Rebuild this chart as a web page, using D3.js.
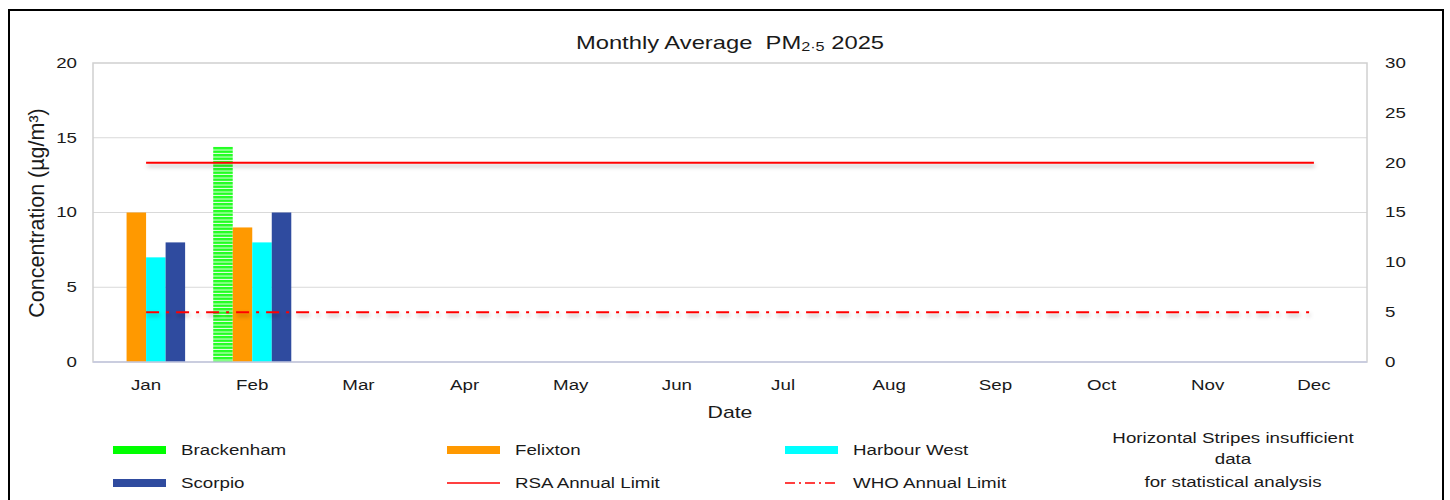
<!DOCTYPE html>
<html><head><meta charset="utf-8">
<script src="https://cdn.jsdelivr.net/npm/d3@7"></script>
<style>
html,body{margin:0;padding:0;background:#fff;}
text{font-family:Arial,"Liberation Sans",sans-serif;fill:#1a1a1a;}
</style></head>
<body><div id="chart"></div>
<script>
// ---- data ----
const months = ["Jan","Feb","Mar","Apr","May","Jun","Jul","Aug","Sep","Oct","Nov","Dec"];
const seriesNames = ["Brackenham","Felixton","Harbour West","Scorpio"];
const brackenham  = [null, 14.4, null, null, null, null, null, null, null, null, null, null];
const felixton    = [10, 9, null, null, null, null, null, null, null, null, null, null];
const harbourWest = [7, 8, null, null, null, null, null, null, null, null, null, null];
const scorpio     = [8, 10, null, null, null, null, null, null, null, null, null, null];
const brackenhamInsufficient = [false, true, false, false, false, false, false, false, false, false, false, false];
const leftTicks  = [0, 5, 10, 15, 20];
const rightTicks = [0, 5, 10, 15, 20, 25, 30];
const rsaLimit = 20;   // right axis
const whoLimit = 5;    // right axis

// ---- layout ----
const W = 1450, H = 500, SX = 1.25;
const plot = {l: 93, r: 1367, t: 63, b: 362};
const colors = {"Brackenham":"#00ff00","Felixton":"#ff9900","Harbour West":"#00ffff","Scorpio":"#2f4b9f"};
const seriesData = {"Brackenham":brackenham,"Felixton":felixton,"Harbour West":harbourWest,"Scorpio":scorpio};

const svg = d3.select("#chart").append("svg").attr("width", W).attr("height", H);
svg.append("rect").attr("width", W).attr("height", H).attr("fill", "#fff");

const defs = svg.append("defs");
const pat = defs.append("pattern").attr("id","stripes").attr("patternUnits","userSpaceOnUse")
  .attr("width", 8).attr("height", 3.5);
pat.append("rect").attr("width", 8).attr("height", 3.5).attr("fill", "#22ff22");
pat.append("rect").attr("y", 2.5).attr("width", 8).attr("height", 1).attr("fill", "#e6ffe6");
const sh = defs.append("filter").attr("id","shadow").attr("filterUnits","userSpaceOnUse")
  .attr("x", 0).attr("y", 0).attr("width", W).attr("height", H);
sh.append("feDropShadow").attr("dx", 1).attr("dy", 3).attr("stdDeviation", 2)
  .attr("flood-color", "#000").attr("flood-opacity", 0.3);

// outer border
svg.append("rect").attr("x", 9).attr("y", 10).attr("width", 1434).attr("height", 500)
  .attr("fill","none").attr("stroke","#000").attr("stroke-width", 2);

// scales
const x0 = d3.scaleBand().domain(months).range([plot.l, plot.r]).padding(0);
const x1 = d3.scaleBand().domain(seriesNames).range([0, x0.bandwidth()]).paddingInner(0).paddingOuter(0.72);
const yL = d3.scaleLinear().domain([0, 20]).range([plot.b, plot.t]);
const yR = d3.scaleLinear().domain([0, 30]).range([plot.b, plot.t]);

// stretched text helper
function stext(g, x, y, str, size, anchor) {
  return g.append("text")
    .attr("transform", `translate(${x},${y}) scale(${SX},1)`)
    .attr("font-size", size).attr("text-anchor", anchor || "start")
    .attr("dominant-baseline", "central").text(str);
}

// gridlines + frame
svg.append("g").selectAll("line").data(leftTicks.filter(d => d > 0 && d < 20)).join("line")
  .attr("x1", plot.l).attr("x2", plot.r).attr("y1", d => yL(d)).attr("y2", d => yL(d))
  .attr("stroke", "#d9d9d9").attr("stroke-width", 1);
svg.append("rect").attr("x", plot.l).attr("y", plot.t).attr("width", plot.r - plot.l).attr("height", plot.b - plot.t)
  .attr("fill", "none").attr("stroke", "#d0d0d0").attr("stroke-width", 1.5);

// bars
const bars = svg.append("g");
seriesNames.forEach(name => {
  const vals = seriesData[name];
  bars.append("g").selectAll("rect")
    .data(months.map((m, i) => ({m, i, v: vals[i]})).filter(d => d.v != null))
    .join("rect")
    .attr("x", d => x0(d.m) + x1(name))
    .attr("width", x1.bandwidth())
    .attr("y", d => yL(d.v))
    .attr("height", d => yL(0) - yL(d.v))
    .attr("fill", d => (name === "Brackenham" && brackenhamInsufficient[d.i]) ? "url(#stripes)" : colors[name]);
});

// x axis baseline
svg.append("line").attr("x1", plot.l).attr("x2", plot.r).attr("y1", plot.b).attr("y2", plot.b)
  .attr("stroke", "#c4c9e0").attr("stroke-width", 1.5);

// limit lines (right axis)
const lx1 = x0(months[0]) + x0.bandwidth() / 2, lx2 = x0(months[11]) + x0.bandwidth() / 2;
const limits = svg.append("g").attr("filter", "url(#shadow)");
limits.append("line").attr("x1", lx1).attr("x2", lx2).attr("y1", yR(rsaLimit)).attr("y2", yR(rsaLimit))
  .attr("stroke", "#ff0000").attr("stroke-width", 2);
limits.append("line").attr("x1", lx1).attr("x2", lx2).attr("y1", yR(whoLimit)).attr("y2", yR(whoLimit))
  .attr("stroke", "#ff0000").attr("stroke-width", 2).attr("stroke-dasharray", "13,7,3,7");

// axes tick labels
const axL = svg.append("g");
leftTicks.forEach(t => stext(axL, 77, yL(t), String(t), 15, "end"));
const axR = svg.append("g");
rightTicks.forEach(t => stext(axR, 1385, yR(t), String(t), 15, "start"));
const axX = svg.append("g");
months.forEach(m => stext(axX, x0(m) + x0.bandwidth() / 2, 385, m, 15, "middle"));

// titles
const title = svg.append("text")
  .attr("transform", `translate(730,43) scale(${SX},1)`)
  .attr("font-size", 19).attr("text-anchor", "middle").attr("dominant-baseline", "central")
  .attr("xml:space", "preserve");
title.append("tspan").text("Monthly Average  PM");
title.append("tspan").attr("font-size", 13).attr("dy", 4).text("2·5");
title.append("tspan").attr("dy", -4).text(" 2025");

stext(svg, 730, 412, "Date", 17, "middle");

svg.append("text")
  .attr("transform", `translate(37,213) rotate(-90)`)
  .attr("font-size", 21.5).attr("text-anchor", "middle").attr("dominant-baseline", "central")
  .text("Concentration (µg/m³)");

// legend
const leg = svg.append("g");
const legendItems = [
  {name:"Brackenham", type:"bar", color:colors["Brackenham"], x:113, y:450},
  {name:"Felixton", type:"bar", color:colors["Felixton"], x:447, y:450},
  {name:"Harbour West", type:"bar", color:colors["Harbour West"], x:785, y:450},
  {name:"Scorpio", type:"bar", color:colors["Scorpio"], x:113, y:483},
  {name:"RSA Annual Limit", type:"line", color:"#ff0000", x:447, y:483},
  {name:"WHO Annual Limit", type:"dash", color:"#ff0000", x:785, y:483}
];
legendItems.forEach(it => {
  if (it.type === "bar") {
    leg.append("rect").attr("x", it.x).attr("y", it.y - 4).attr("width", 53).attr("height", 8).attr("fill", it.color);
  } else {
    leg.append("line").attr("x1", it.x).attr("x2", it.x + 53).attr("y1", it.y).attr("y2", it.y)
      .attr("stroke", it.color).attr("stroke-width", 1.5)
      .attr("stroke-dasharray", it.type === "dash" ? "10,4,2,4" : null);
  }
  stext(leg, it.x + 68, it.y, it.name, 15, "start");
});
const noteLines = ["Horizontal Stripes insufficient", "data", "for statistical analysis"];
const noteY = [438, 459, 482];
noteLines.forEach((s, i) => stext(leg, 1233, noteY[i], s, 15, "middle"));
</script>
</body></html>
